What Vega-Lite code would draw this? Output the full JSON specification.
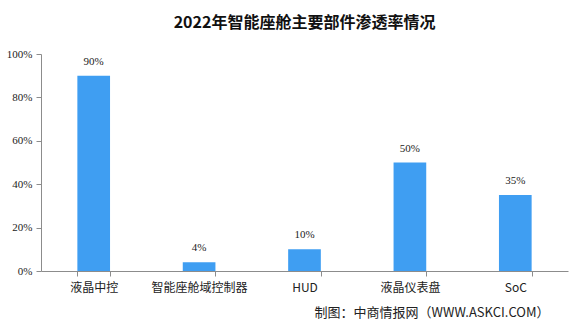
{
  "$schema": "https://vega.github.io/schema/vega-lite/v6.json",
  "autosize": "none",
  "width": 527,
  "height": 217,
  "padding": {"left": 41, "top": 54, "right": 17, "bottom": 56},
  "background": "#ffffff",
  "title": {
    "text": "2022年智能座舱主要部件渗透率情况",
    "font": "Noto Sans CJK SC",
    "fontSize": 16,
    "fontWeight": "bold",
    "color": "#111111",
    "anchor": "middle",
    "offset": 17
  },
  "data": {
    "values": [
      {"part": "液晶中控", "rate": 0.90, "label": "90%"},
      {"part": "智能座舱域控制器", "rate": 0.04, "label": "4%"},
      {"part": "HUD", "rate": 0.10, "label": "10%"},
      {"part": "液晶仪表盘", "rate": 0.50, "label": "50%"},
      {"part": "SoC", "rate": 0.35, "label": "35%"}
    ]
  },
  "encoding": {
    "x": {
      "field": "part",
      "type": "nominal",
      "sort": null,
      "scale": {"paddingInner": 0.69, "paddingOuter": 0.345},
      "axis": {
        "title": "制图：中商情报网（WWW.ASKCI.COM）",
        "titleFont": "Noto Sans CJK SC",
        "titleFontSize": 13,
        "titleFontWeight": "normal",
        "titleColor": "#222222",
        "titleAnchor": "end",
        "titleAlign": "right",
        "titleBaseline": "middle",
        "titleX": 508,
        "titleY": 41,
        "labelAngle": 0,
        "labelFont": "Noto Sans CJK SC",
        "labelFontSize": 12,
        "labelColor": "#222222",
        "labelPadding": 6,
        "domainColor": "#8c8c8c",
        "tickColor": "#8c8c8c",
        "tickSize": 5,
        "tickBand": "extent"
      }
    },
    "y": {
      "field": "rate",
      "type": "quantitative",
      "scale": {"domain": [0, 1]},
      "axis": {
        "title": null,
        "format": ".0%",
        "values": [0, 0.2, 0.4, 0.6, 0.8, 1],
        "grid": false,
        "labelFont": "Liberation Serif",
        "labelFontSize": 11,
        "labelColor": "#222222",
        "labelPadding": 4,
        "domainColor": "#8c8c8c",
        "tickColor": "#8c8c8c",
        "tickSize": 5
      }
    }
  },
  "layer": [
    {"mark": {"type": "bar", "color": "#3f9ef2"}},
    {
      "mark": {
        "type": "text",
        "dy": -14,
        "font": "Liberation Serif",
        "fontSize": 11,
        "color": "#222222"
      },
      "encoding": {"text": {"field": "label"}}
    }
  ],
  "config": {"view": {"stroke": null}}
}
